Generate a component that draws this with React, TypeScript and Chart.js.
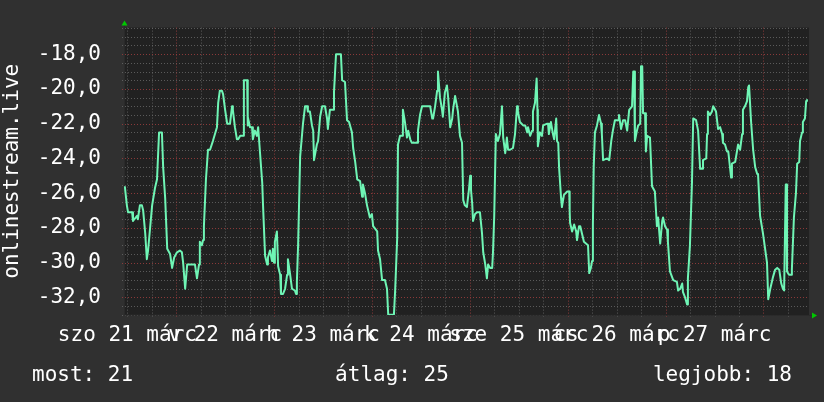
import React, { useEffect, useRef } from 'react';
import { Chart, registerables } from 'chart.js';

Chart.register(...registerables);

// ---- data (hours since the start of the week shown, temperature) ----
const hours = [
  0.2, 0.7, 1.0, 2.0, 2.2, 3.2, 3.4, 3.9, 4.4, 4.7, 5.2, 5.6, 5.9, 6.9, 7.6, 8.1, 8.6, 9.3, 9.6, 10.1,
  10.6, 11.3, 11.8, 12.3, 13.0, 13.7, 14.2, 14.5, 15.0, 15.5, 16.2, 16.9, 17.4, 17.9, 18.4, 18.6, 19.1, 19.4, 19.6, 20.1,
  20.6, 21.1, 21.8, 22.8, 23.1, 23.5, 24.0, 24.3, 24.8, 25.3, 26.0, 26.5, 26.7, 27.2, 27.7, 28.0, 28.5, 29.2, 29.4, 30.2,
  30.3, 30.4, 30.9, 31.4, 31.6, 32.1, 32.6, 32.9, 33.4, 33.9, 34.1, 34.6, 35.1, 35.3, 35.8, 36.3, 36.5, 36.8, 37.0, 37.5,
  37.8, 38.3, 38.5, 39.0, 39.5, 40.0, 40.2, 40.7, 41.2, 41.9, 42.2, 42.4, 42.7, 43.2, 43.9, 44.4, 44.9, 45.1, 45.6, 46.1,
  46.4, 46.6, 47.3, 47.6, 48.1, 48.6, 49.3, 49.8, 50.0, 50.5, 51.3, 51.5, 52.0, 53.2, 53.5, 54.2, 54.7, 55.2, 55.9, 56.2,
  56.7, 57.2, 57.9, 58.4, 58.6, 59.1, 59.6, 60.3, 60.8, 61.1, 62.1, 62.3, 62.8, 63.3, 64.0, 64.5, 64.8, 66.2, 66.5, 67.0,
  67.2, 67.7, 68.2, 68.4, 68.9, 69.4, 69.7, 70.2, 70.6, 71.9, 72.1, 72.6, 73.1, 75.1, 75.6, 75.8, 76.3, 76.8, 77.0, 77.5,
  78.0, 78.2, 78.7, 79.2, 79.5, 80.0, 80.5, 80.7, 81.2, 81.4, 81.9, 82.4, 82.9, 83.2, 83.6, 84.1, 84.6, 84.9, 85.1, 85.4,
  85.6, 86.1, 86.6, 87.3, 87.8, 88.1, 88.6, 89.0, 89.3, 89.8, 90.3, 90.5, 90.8, 91.2, 91.7, 92.2, 92.7, 93.0, 93.5, 93.9,
  94.2, 94.7, 95.4, 95.9, 96.4, 96.6, 97.1, 97.9, 98.4, 98.9, 99.1, 99.6, 100.1, 100.3, 100.8, 101.2, 101.4, 101.5, 102.0, 102.5,
  102.8, 103.8, 104.0, 104.2, 104.7, 105.2, 105.5, 106.0, 106.2, 106.5, 106.7, 107.2, 107.4, 107.9, 108.7, 109.2, 109.3, 109.4, 109.9, 110.1,
  110.4, 110.9, 111.1, 111.6, 111.9, 112.3, 112.8, 113.3, 113.8, 114.1, 114.5, 114.8, 115.0, 115.2, 115.5, 116.0, 116.5, 117.0, 117.2, 117.5,
  118.5, 118.7, 119.0, 119.5, 119.9, 120.4, 121.2, 121.4, 121.9, 122.4, 122.9, 123.4, 123.9, 124.6, 124.9, 125.1, 125.3, 125.8, 126.1, 126.6,
  126.8, 127.1, 127.3, 127.8, 128.0, 128.3, 129.0, 129.5, 130.2, 130.7, 131.0, 131.5, 132.0, 132.2, 132.7, 133.2, 133.4, 133.9, 134.7, 135.6,
  135.9, 136.4, 136.9, 137.1, 137.6, 138.1, 138.3, 138.8, 139.3, 139.6, 140.3, 140.8, 141.3, 141.8, 142.0, 142.8, 143.0, 143.2, 143.7, 144.2,
  144.5, 145.2, 145.7, 146.2, 146.7, 146.9, 147.4, 147.9, 148.2, 148.9, 149.1, 149.9, 150.4, 150.6, 151.1, 151.6, 151.8, 152.3, 152.8, 153.1,
  153.3, 153.8, 154.3, 154.8, 155.3, 155.5, 156.0, 156.7, 157.0, 157.7, 158.0, 158.5, 159.0, 159.2, 159.7, 160.2, 160.7, 161.2, 161.6, 161.9,
  162.3, 162.5, 162.6, 163.1, 163.6, 163.8, 164.3, 164.8, 165.1, 165.6, 165.8, 166.3, 166.5, 167.0, 167.3, 167.5,
];

const temps = [
  -25.6, -26.7, -27.1, -27.1, -27.6, -27.3, -27.5, -26.7, -26.7, -27.0, -28.3, -29.8, -29.3, -26.7, -25.7, -25.2, -22.5, -22.5, -24.5, -26.3,
  -29.2, -29.5, -30.3, -29.7, -29.4, -29.3, -29.4, -30.0, -31.5, -30.1, -30.1, -30.1, -30.1, -30.9, -30.1, -28.8, -29.0, -28.7, -27.9, -25.2,
  -23.5, -23.5, -23.0, -22.2, -20.8, -20.1, -20.1, -20.3, -21.2, -22.0, -22.0, -21.0, -21.2, -22.2, -22.9, -22.9, -22.7, -22.7, -19.5, -19.5,
  -22.1, -21.6, -22.2, -22.2, -22.9, -22.4, -22.7, -22.2, -23.8, -25.4, -26.7, -29.6, -30.1, -29.7, -29.3, -29.9, -29.2, -30.0, -28.8, -28.2,
  -30.2, -30.7, -31.8, -31.8, -31.5, -30.7, -29.8, -30.6, -31.5, -31.6, -31.8, -31.1, -29.0, -23.9, -22.0, -21.0, -21.0, -21.3, -21.3, -22.1,
  -22.4, -24.1, -23.2, -23.0, -21.6, -21.0, -21.0, -21.7, -22.3, -21.2, -21.2, -20.2, -18.0, -18.0, -19.5, -19.6, -21.8, -21.9, -22.5, -23.4,
  -24.2, -25.2, -25.3, -26.2, -25.5, -26.0, -26.7, -27.4, -27.2, -27.9, -28.2, -29.3, -29.8, -31.0, -31.0, -31.5, -33.0, -33.0, -31.6, -28.6,
  -23.2, -22.7, -22.7, -21.2, -21.9, -22.8, -22.4, -22.9, -23.1, -23.1, -22.4, -21.5, -21.0, -21.0, -21.7, -21.7, -21.0, -20.1, -19.0, -20.5,
  -21.2, -21.6, -20.2, -19.8, -20.5, -22.2, -21.7, -21.2, -20.4, -20.4, -21.3, -22.7, -23.1, -26.4, -26.7, -26.8, -25.8, -25.0, -25.8, -26.6,
  -27.6, -27.2, -27.1, -27.1, -28.3, -29.4, -30.1, -30.9, -30.1, -30.3, -30.3, -29.4, -27.3, -22.6, -23.0, -22.6, -21.0, -22.8, -23.7, -22.8,
  -23.5, -23.5, -23.4, -22.6, -21.0, -21.3, -21.9, -22.1, -22.1, -22.5, -22.2, -22.7, -22.4, -21.3, -20.8, -19.4, -21.2, -23.3, -22.5, -22.7,
  -22.1, -22.0, -22.0, -22.6, -21.9, -22.6, -22.9, -21.7, -23.0, -23.1, -24.5, -26.3, -26.8, -26.1, -25.9, -25.9, -27.0, -27.7, -28.2, -28.2,
  -27.8, -28.2, -28.7, -27.9, -27.9, -28.3, -28.8, -28.9, -29.0, -30.6, -30.3, -29.9, -27.8, -24.5, -22.5, -22.1, -21.5, -22.0, -22.6, -24.1,
  -24.0, -24.0, -24.1, -23.0, -22.4, -21.8, -21.8, -21.5, -22.3, -21.8, -21.8, -22.4, -21.2, -21.0, -19.0, -19.0, -23.0, -22.4, -22.1, -22.0,
  -18.7, -18.7, -21.4, -21.4, -23.6, -22.7, -22.8, -25.6, -25.9, -27.9, -27.4, -28.9, -27.6, -27.4, -27.9, -28.1, -28.8, -30.5, -31.0, -31.1,
  -31.6, -31.5, -31.2, -31.7, -32.0, -32.4, -30.9, -29.0, -25.4, -21.7, -21.8, -22.4, -24.6, -24.6, -24.1, -24.0, -22.6, -21.3, -21.5, -21.3,
  -21.0, -21.3, -22.3, -22.2, -22.6, -23.1, -23.2, -23.6, -23.6, -25.1, -24.3, -24.2, -23.5, -23.2, -23.5, -22.6, -21.2, -21.0, -20.7, -19.9,
  -19.8, -21.9, -23.5, -24.5, -24.9, -24.9, -27.3, -28.3, -28.8, -30.0, -32.1, -31.5, -31.0, -30.8, -30.4, -30.3, -30.4, -31.2, -31.5, -31.6,
  -25.5, -25.5, -30.5, -30.7, -30.7, -30.4, -27.4, -26.0, -24.3, -24.2, -23.0, -22.5, -21.9, -21.7, -20.7, -20.6,
];

const dayLabels = ['szo 21 márc', 'v 22 márc', 'h 23 márc', 'k 24 márc', 'sze 25 márc', 'cs 26 márc', 'p 27 márc'];
const yTickValues = [-32, -30, -28, -26, -24, -22, -20, -18];
const statTexts = ['most: 21', 'átlag: 25', 'legjobb: 18'];
const yTitle = 'onlinestream.live';

const SPAN_HOURS = 168;
const FIRST_MIDNIGHT = 12.83; // hours after the start of the data
const Y_MIN = -33.01;
const Y_MAX = -16.47;

const BACK = '#303030';
const CANVAS_BG = '#212121';
const LINE_COLOR = '#6ff5b5';
const MINOR_GRID = 'rgba(110,110,110,0.75)';
const MAJOR_GRID = 'rgba(150,60,60,0.9)';
const ARROW = '#00c800';
const FONT = "'DejaVu Sans Mono', monospace";

const labelHours = dayLabels.map((_, i) => FIRST_MIDNIGHT - 12 + 24 * i);

const rrdPlugin = {
  id: 'rrdStyle',
  beforeDraw(chart: any) {
    const { ctx, chartArea: a } = chart;
    const xs = chart.scales.x;
    const ys = chart.scales.y;
    ctx.save();
    ctx.fillStyle = BACK;
    ctx.fillRect(0, 0, chart.width, chart.height);
    ctx.fillStyle = CANVAS_BG;
    ctx.fillRect(a.left, a.top, a.right - a.left, a.bottom - a.top);

    ctx.lineWidth = 1;
    ctx.setLineDash([1, 2]);
    const hLines: { p: number; major: boolean }[] = [];
    for (let v = Math.ceil(Y_MIN * 2) / 2; v <= Y_MAX + 1e-6; v += 0.5) {
      const major = Math.abs(v - Math.round(v / 2) * 2) < 1e-6;
      hLines.push({ p: Math.round(ys.getPixelForValue(v)) + 0.5, major });
    }
    const vLines: { p: number; major: boolean }[] = [];
    for (let h = FIRST_MIDNIGHT % 6; h <= SPAN_HOURS; h += 6) {
      const d = (h - FIRST_MIDNIGHT) / 24;
      const major = Math.abs(d - Math.round(d)) < 1e-6;
      vLines.push({ p: Math.round(xs.getPixelForValue(h)) + 0.5, major });
    }
    for (const pass of [false, true]) {
      ctx.strokeStyle = pass ? MAJOR_GRID : MINOR_GRID;
      ctx.beginPath();
      for (const l of hLines) {
        if (l.major !== pass) continue;
        ctx.moveTo(a.left - 2, l.p);
        ctx.lineTo(a.right, l.p);
      }
      for (const l of vLines) {
        if (l.major !== pass) continue;
        ctx.moveTo(l.p, a.top);
        ctx.lineTo(l.p, a.bottom + 2);
      }
      ctx.stroke();
    }
    ctx.setLineDash([]);
    ctx.strokeStyle = '#2a2a2a';
    ctx.beginPath();
    ctx.moveTo(a.left + 0.5, a.top - 4);
    ctx.lineTo(a.left + 0.5, a.bottom);
    ctx.lineTo(a.right + 4, a.bottom + 0.5);
    ctx.stroke();
    ctx.restore();
  },
  afterDraw(chart: any) {
    const { ctx, chartArea: a } = chart;
    ctx.save();
    // axis arrows
    ctx.fillStyle = ARROW;
    ctx.beginPath();
    ctx.moveTo(a.left - 2.5, a.top - 2);
    ctx.lineTo(a.left + 3.5, a.top - 2);
    ctx.lineTo(a.left + 0.5, a.top - 7);
    ctx.closePath();
    ctx.fill();
    ctx.beginPath();
    ctx.moveTo(a.right + 3, a.bottom - 2.5);
    ctx.lineTo(a.right + 3, a.bottom + 3.5);
    ctx.lineTo(a.right + 8, a.bottom + 0.5);
    ctx.closePath();
    ctx.fill();
    // statistics line
    ctx.fillStyle = '#ffffff';
    ctx.font = `21px ${FONT}`;
    ctx.textBaseline = 'alphabetic';
    const y = chart.height - 21;
    ctx.textAlign = 'left';
    ctx.fillText(statTexts[0], 32, y);
    ctx.textAlign = 'center';
    ctx.fillText(statTexts[1], 392, y);
    ctx.textAlign = 'right';
    ctx.fillText(statTexts[2], 792, y);
    ctx.restore();
  },
};

export default function App() {
  const ref = useRef<HTMLCanvasElement | null>(null);

  useEffect(() => {
    document.body.style.margin = '0';
    const canvas = ref.current;
    if (!canvas) return;
    const chart = new Chart(canvas, {
      type: 'line',
      data: {
        datasets: [
          {
            data: hours.map((h, i) => ({ x: h, y: temps[i] })),
            borderColor: LINE_COLOR,
            borderWidth: 2,
            pointRadius: 0,
            tension: 0,
            fill: false,
            borderJoinStyle: 'round',
          },
        ],
      },
      options: {
        animation: false,
        responsive: false,
        devicePixelRatio: 1,
        layout: { padding: { left: 0, top: 15, right: 15, bottom: 0 } },
        plugins: { legend: { display: false }, tooltip: { enabled: false } },
        scales: {
          x: {
            type: 'linear',
            min: 0,
            max: SPAN_HOURS,
            grid: { display: false },
            border: { display: false },
            afterBuildTicks: (scale: any) => {
              scale.ticks = labelHours.map((v) => ({ value: v }));
            },
            afterFit: (scale: any) => {
              scale.height = 87;
            },
            ticks: {
              autoSkip: false,
              maxRotation: 0,
              minRotation: 0,
              padding: 0,
              color: '#ffffff',
              font: { family: FONT, size: 21 },
              callback: (_v: any, i: number) => dayLabels[i],
            },
          },
          y: {
            type: 'linear',
            min: Y_MIN,
            max: Y_MAX,
            grid: { display: false },
            border: { display: false },
            afterBuildTicks: (scale: any) => {
              scale.ticks = yTickValues.map((v) => ({ value: v }));
            },
            afterFit: (scale: any) => {
              scale.width = 124;
            },
            ticks: {
              padding: 15,
              color: '#ffffff',
              font: { family: FONT, size: 21 },
              callback: (v: any) => Number(v).toFixed(1).replace('.', ','),
            },
            title: {
              display: true,
              text: yTitle,
              color: '#ffffff',
              font: { family: FONT, size: 21 },
              padding: { top: 0, bottom: 0 },
            },
          },
        },
      },
      plugins: [rrdPlugin],
    });
    return () => chart.destroy();
  }, []);

  return (
    <div style={{ position: 'absolute', left: 0, top: 0, width: 824, height: 402 }}>
      <canvas ref={ref} width={824} height={402} style={{ display: 'block' }} />
    </div>
  );
}
